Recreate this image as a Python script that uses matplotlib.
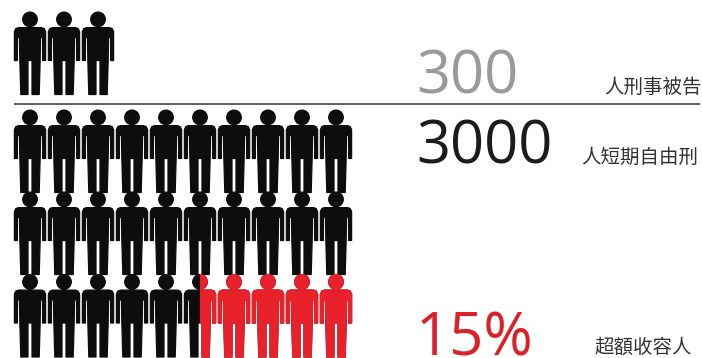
import matplotlib
matplotlib.use("Agg")
import matplotlib.pyplot as plt
from matplotlib.path import Path
from matplotlib.patches import PathPatch, Rectangle
from matplotlib.transforms import Affine2D

# Icon counts per row; each row of ten stands for 1000 people
row_counts = [3, 10, 10, 10]
overflow_share = 15  # percent of the 3000 block held above capacity
figures = ["300", "3000", "15%"]
captions = ["人刑事被告", "人短期自由刑", "超額收容人"]

WIDTH, HEIGHT = 702, 358
BLACK, RED = "#0d0d0d", "#e8212b"
CJK = ["Noto Sans CJK TC", "DejaVu Sans"]

fig = plt.figure(figsize=(WIDTH / 100, HEIGHT / 100), dpi=100)
ax = fig.add_axes([0, 0, 1, 1])
ax.set_xlim(0, WIDTH)
ax.set_ylim(HEIGHT, 0)
ax.axis("off")

# Pictogram outline, origin at the centre of the head top, y pointing down
outline = [(0, 15.6), (-11.5, 15.6), (-14.2, 16.6), (-15.6, 19.6), (-15.6, 48.5),
           (-12.6, 48.5), (-12.6, 25.5), (-10.6, 25.5), (-10.2, 47), (-9.2, 82.5),
           (-2.0, 82.5), (-2.0, 48.5), (2.0, 48.5), (2.0, 82.5), (9.2, 82.5),
           (10.2, 47), (10.6, 25.5), (12.6, 25.5), (12.6, 48.5), (15.6, 48.5),
           (15.6, 19.6), (14.2, 16.6), (11.5, 15.6), (0, 15.6)]
body = Path(outline, closed=True)
head = Path.circle((0, 7.4), 7.3)
person = Path.make_compound_path(head, body)

x0, dx = 30.0, 34.0
row_tops = [12.0, 110.0, 192.0, 274.5]


def draw_person(x, y, colour, clip=None):
    patch = PathPatch(person, facecolor=colour, edgecolor=colour, lw=0.9,
                      joinstyle="round",
                      transform=Affine2D().translate(x, y) + ax.transData)
    ax.add_patch(patch)
    if clip is not None:
        patch.set_clip_path(clip)


for top, count in zip(row_tops, row_counts):
    for i in range(count):
        draw_person(x0 + i * dx, top, BLACK)

# Red overlay on the last row: the share of all thirty icons, counted from the right
block_icons = sum(row_counts[1:])
red_icons = block_icons * overflow_share / 100
split_x = x0 + (row_counts[-1] - red_icons - 0.5) * dx
clip_rect = Rectangle((split_x, row_tops[-1] - 2), WIDTH - split_x, 90,
                      transform=ax.transData)
for i in range(row_counts[-1]):
    if i + 1 > row_counts[-1] - red_icons:
        draw_person(x0 + i * dx, row_tops[-1], RED, clip_rect)

ax.plot([14, 700], [104, 104], color="#333333", lw=1.1, solid_capstyle="butt")

# Large figures
for text, y, colour in zip(figures, [93, 163, 355.5], ["#9a9a9a", "#1c1c1c", "#dd2027"]):
    ax.text(416, y, text, color=colour, fontsize=43, family="Open Sans",
            ha="left", va="baseline")

# Captions
for text, x, y in zip(captions, [604, 581, 594], [93, 163, 353]):
    ax.text(x, y, text, color="#333333", fontsize=14, family=CJK,
            ha="left", va="baseline")

fig.savefig("out.png", dpi=100)
